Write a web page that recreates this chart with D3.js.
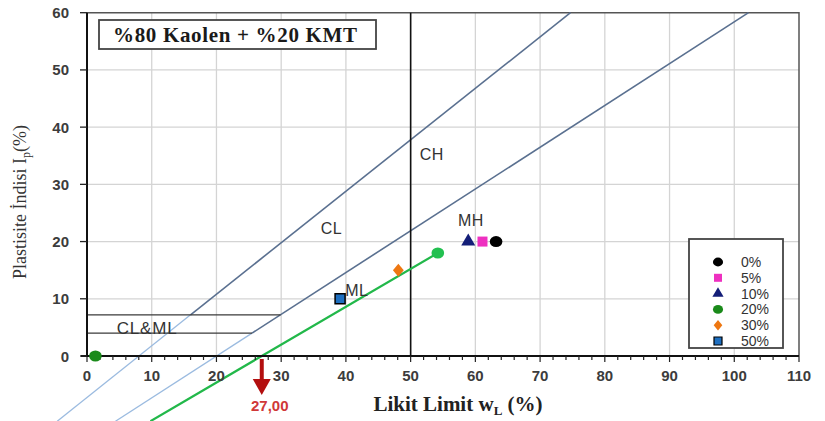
<!DOCTYPE html>
<html>
<head>
<meta charset="utf-8">
<script src="https://cdn.jsdelivr.net/npm/d3@7"></script>
<style>
  html, body { margin: 0; padding: 0; background: #fff; }
  svg { display: block; }
</style>
</head>
<body>
<svg id="chart" width="825" height="421"></svg>
<script>
// Plasticity chart values
const xTicks = [0, 10, 20, 30, 40, 50, 60, 70, 80, 90, 100, 110];
const yTicks = [0, 10, 20, 30, 40, 50, 60];

// Casagrande reference lines (wL, Ip endpoints)
const uLineLow  = [[-4.6, -11.4], [16.0, 7.2]];
const uLineHigh = [[16.0, 7.2], [74.7, 60]];
const aLineLow  = [[4.4, -11.4], [25.5, 4.0]];
const aLineHigh = [[25.5, 4.0], [102.2, 60]];
const clmlTop = [[0, 7.2], [29.9, 7.2]];
const clmlBottom = [[0, 4.0], [25.5, 4.0]];
const wL50 = [[50, 0], [50, 60]];

// Trend line through the 20% sample and its intercept
const trendLine = [[9.8, -11.4], [27.0, 0], [54.2, 18]];
const interceptWL = 27.0;
const interceptLabel = "27,00";

// Samples by additive content
const seriesNames = ["0%", "5%", "10%", "20%", "30%", "50%"];
const seriesWL = [[63.2], [61.1], [58.9], [54.2, 1.3], [48.1], [39.1]];
const seriesIp = [[20], [20], [20], [18, 0], [15], [10]];
const seriesShape = ["circle", "square", "triangle", "circle", "diamond", "square"];
const seriesColor = ["#000000", "#ee30c0", "#141e78", "#1a8a1a", "#ee7711", "#1e6fc0"];

// Zone labels
const zoneNames = ["CL", "CH", "MH", "ML", "CL&ML"];
const zoneWL = [36.1, 51.4, 57.3, 39.9, 4.6];
const zoneIp = [21.4, 34.3, 22.7, 10.5, 3.9];

const svg = d3.select("#chart");
const x = d3.scaleLinear().domain([0, 110]).range([87, 799]);
const y = d3.scaleLinear().domain([0, 60]).range([356, 12.7]);
const line = d3.line().x(d => x(d[0])).y(d => y(d[1]));

// Grid
const grid = svg.append("g");
grid.selectAll(".gx").data(xTicks.slice(1, -1)).join("line")
  .attr("x1", d => x(d)).attr("x2", d => x(d))
  .attr("y1", y(0)).attr("y2", y(60))
  .attr("stroke", "#d4d4d4").attr("stroke-width", 1.3);
grid.selectAll(".gy").data(yTicks.slice(1, -1)).join("line")
  .attr("x1", x(0)).attr("x2", x(110))
  .attr("y1", d => y(d)).attr("y2", d => y(d))
  .attr("stroke", "#d4d4d4").attr("stroke-width", 1.3);

// Frame top and right
svg.append("path")
  .attr("d", `M${x(0)},${y(60)}H${x(110)}V${y(0)}`)
  .attr("fill", "none").attr("stroke", "#555").attr("stroke-width", 1.5);

// Reference lines
const refs = svg.append("g");
refs.append("path").attr("d", line(uLineLow)).attr("fill", "none").attr("stroke", "#9bbbe0").attr("stroke-width", 1.3);
refs.append("path").attr("d", line(aLineLow)).attr("fill", "none").attr("stroke", "#9bbbe0").attr("stroke-width", 1.3);
refs.append("path").attr("d", line(uLineHigh)).attr("fill", "none").attr("stroke", "#5a7090").attr("stroke-width", 1.6);
refs.append("path").attr("d", line(aLineHigh)).attr("fill", "none").attr("stroke", "#5a7090").attr("stroke-width", 1.6);
refs.append("path").attr("d", line(clmlTop)).attr("fill", "none").attr("stroke", "#3a3a3a").attr("stroke-width", 1.2);
refs.append("path").attr("d", line(clmlBottom)).attr("fill", "none").attr("stroke", "#3a3a3a").attr("stroke-width", 1.2);
refs.append("path").attr("d", line(wL50)).attr("fill", "none").attr("stroke", "#111").attr("stroke-width", 1.6);

// Trend line
svg.append("path").attr("d", line(trendLine)).attr("fill", "none")
  .attr("stroke", "#22b84a").attr("stroke-width", 2.2);

// Axes
const xAxis = svg.append("g").attr("transform", `translate(0,${y(0)})`);
xAxis.append("line").attr("x1", x(0) - 6).attr("x2", x(110)).attr("y1", 0).attr("y2", 0)
  .attr("stroke", "#111").attr("stroke-width", 2);
xAxis.selectAll(".minor").data(d3.range(0, 111, 2)).join("line")
  .attr("x1", d => x(d)).attr("x2", d => x(d)).attr("y1", 0).attr("y2", d => d % 10 === 0 ? 6 : 4)
  .attr("stroke", "#222").attr("stroke-width", 1.2);
xAxis.selectAll("text").data(xTicks).join("text")
  .attr("x", d => x(d)).attr("y", 25)
  .attr("text-anchor", "middle")
  .attr("font-family", "Liberation Sans, Arial, sans-serif").attr("font-size", 15).attr("font-weight", "bold")
  .attr("fill", "#3c3c3c").text(d => d);

const yAxis = svg.append("g");
yAxis.append("line").attr("x1", x(0)).attr("x2", x(0)).attr("y1", y(0) + 1).attr("y2", y(60))
  .attr("stroke", "#111").attr("stroke-width", 2);
yAxis.selectAll(".tick").data(yTicks).join("line")
  .attr("x1", x(0) - 7).attr("x2", x(0)).attr("y1", d => y(d)).attr("y2", d => y(d))
  .attr("stroke", "#222").attr("stroke-width", 1.3);
yAxis.selectAll("text").data(yTicks).join("text")
  .attr("x", 69).attr("y", d => y(d) + 5.5)
  .attr("text-anchor", "end")
  .attr("font-family", "Liberation Sans, Arial, sans-serif").attr("font-size", 15).attr("font-weight", "bold")
  .attr("fill", "#3c3c3c").text(d => d);

// Axis titles
const yTitle = svg.append("text")
  .attr("transform", "translate(26,202) rotate(-90)")
  .attr("text-anchor", "middle")
  .attr("font-family", "Liberation Serif, Times New Roman, serif").attr("font-size", 18)
  .attr("fill", "#333");
yTitle.append("tspan").text("Plastisite İndisi I");
yTitle.append("tspan").attr("font-size", 12).attr("dy", 4).text("p");
yTitle.append("tspan").attr("dy", -4).text("(%)");

const xTitle = svg.append("text")
  .attr("x", 458).attr("y", 411)
  .attr("text-anchor", "middle")
  .attr("font-family", "Liberation Serif, Times New Roman, serif").attr("font-size", 21).attr("font-weight", "bold")
  .attr("fill", "#222");
xTitle.append("tspan").text("Likit Limit  w");
xTitle.append("tspan").attr("font-size", 13).attr("dy", 4).text("L");
xTitle.append("tspan").attr("dy", -4).text(" (%)");

// Zone labels
svg.selectAll(".zone").data(zoneNames).join("text")
  .attr("x", (d, i) => x(zoneWL[i])).attr("y", (d, i) => y(zoneIp[i]))
  .attr("font-family", "Liberation Sans, Arial, sans-serif").attr("font-size", d => d === "CL&ML" ? 17 : 16)
  .attr("letter-spacing", d => d === "CL&ML" ? 0.8 : 0.5)
  .attr("fill", "#333").text(d => d);

// Marker shapes
const symbolFor = {
  circle: d3.symbolCircle, square: d3.symbolSquare,
  triangle: d3.symbolTriangle, diamond: d3.symbolDiamond
};
const sizeFor = { circle: 95, square: 100, triangle: 85, diamond: 60 };
function drawMarker(g, shape, color, i) {
  const p = g.append("path")
    .attr("d", d3.symbol().type(symbolFor[shape]).size(sizeFor[shape])())
    .attr("fill", color);
  if (seriesNames[i] === "50%") p.attr("stroke", "#000").attr("stroke-width", 1.5);
  if (shape === "diamond") p.attr("transform", "scale(1.3,0.9)");
  if (shape === "circle") p.attr("transform", "scale(1.15,1)");
  return p;
}

// Sample points
seriesNames.forEach((name, i) => {
  seriesWL[i].forEach((wl, j) => {
    const g = svg.append("g").attr("transform", `translate(${x(wl)},${y(seriesIp[i][j])})`);
    const col = (name === "20%" && j === 0) ? "#22c050" : seriesColor[i];
    drawMarker(g, seriesShape[i], col, i);
  });
});

// Intercept arrow
const arrowX = x(interceptWL);
svg.append("line").attr("x1", arrowX).attr("x2", arrowX).attr("y1", y(0) + 3).attr("y2", 383)
  .attr("stroke", "#b30f0f").attr("stroke-width", 4);
svg.append("path")
  .attr("d", `M${arrowX - 9},379 L${arrowX + 9},379 L${arrowX},395 Z`)
  .attr("fill", "#b30f0f");
svg.append("text").attr("x", arrowX + 8).attr("y", 411)
  .attr("text-anchor", "middle")
  .attr("font-family", "Liberation Sans, Arial, sans-serif").attr("font-size", 15).attr("font-weight", "bold")
  .attr("fill", "#d03838").text(interceptLabel);

// Title box
svg.append("rect").attr("x", 99).attr("y", 20).attr("width", 277).attr("height", 29)
  .attr("fill", "#fff").attr("stroke", "#444").attr("stroke-width", 1.8);
svg.append("text").attr("x", 235).attr("y", 41.5)
  .attr("text-anchor", "middle")
  .attr("font-family", "Liberation Serif, Times New Roman, serif").attr("font-size", 21).attr("font-weight", "bold")
  .attr("textLength", 244).attr("lengthAdjust", "spacing")
  .attr("fill", "#1a1a1a").text("%80 Kaolen + %20 KMT");

// Legend
const legend = svg.append("g");
legend.append("rect").attr("x", 689).attr("y", 239).attr("width", 94).attr("height", 109)
  .attr("fill", "#fff").attr("stroke", "#444").attr("stroke-width", 1.8);
seriesNames.forEach((name, i) => {
  const ly = 262 + i * 15.8;
  const g = legend.append("g").attr("transform", `translate(718,${ly}) scale(0.8)`);
  drawMarker(g, seriesShape[i], seriesColor[i], i);
  legend.append("text").attr("x", 741).attr("y", ly + 5)
    .attr("font-family", "Liberation Sans, Arial, sans-serif").attr("font-size", 14)
    .attr("fill", "#333").text(name);
});
</script>
</body>
</html>
